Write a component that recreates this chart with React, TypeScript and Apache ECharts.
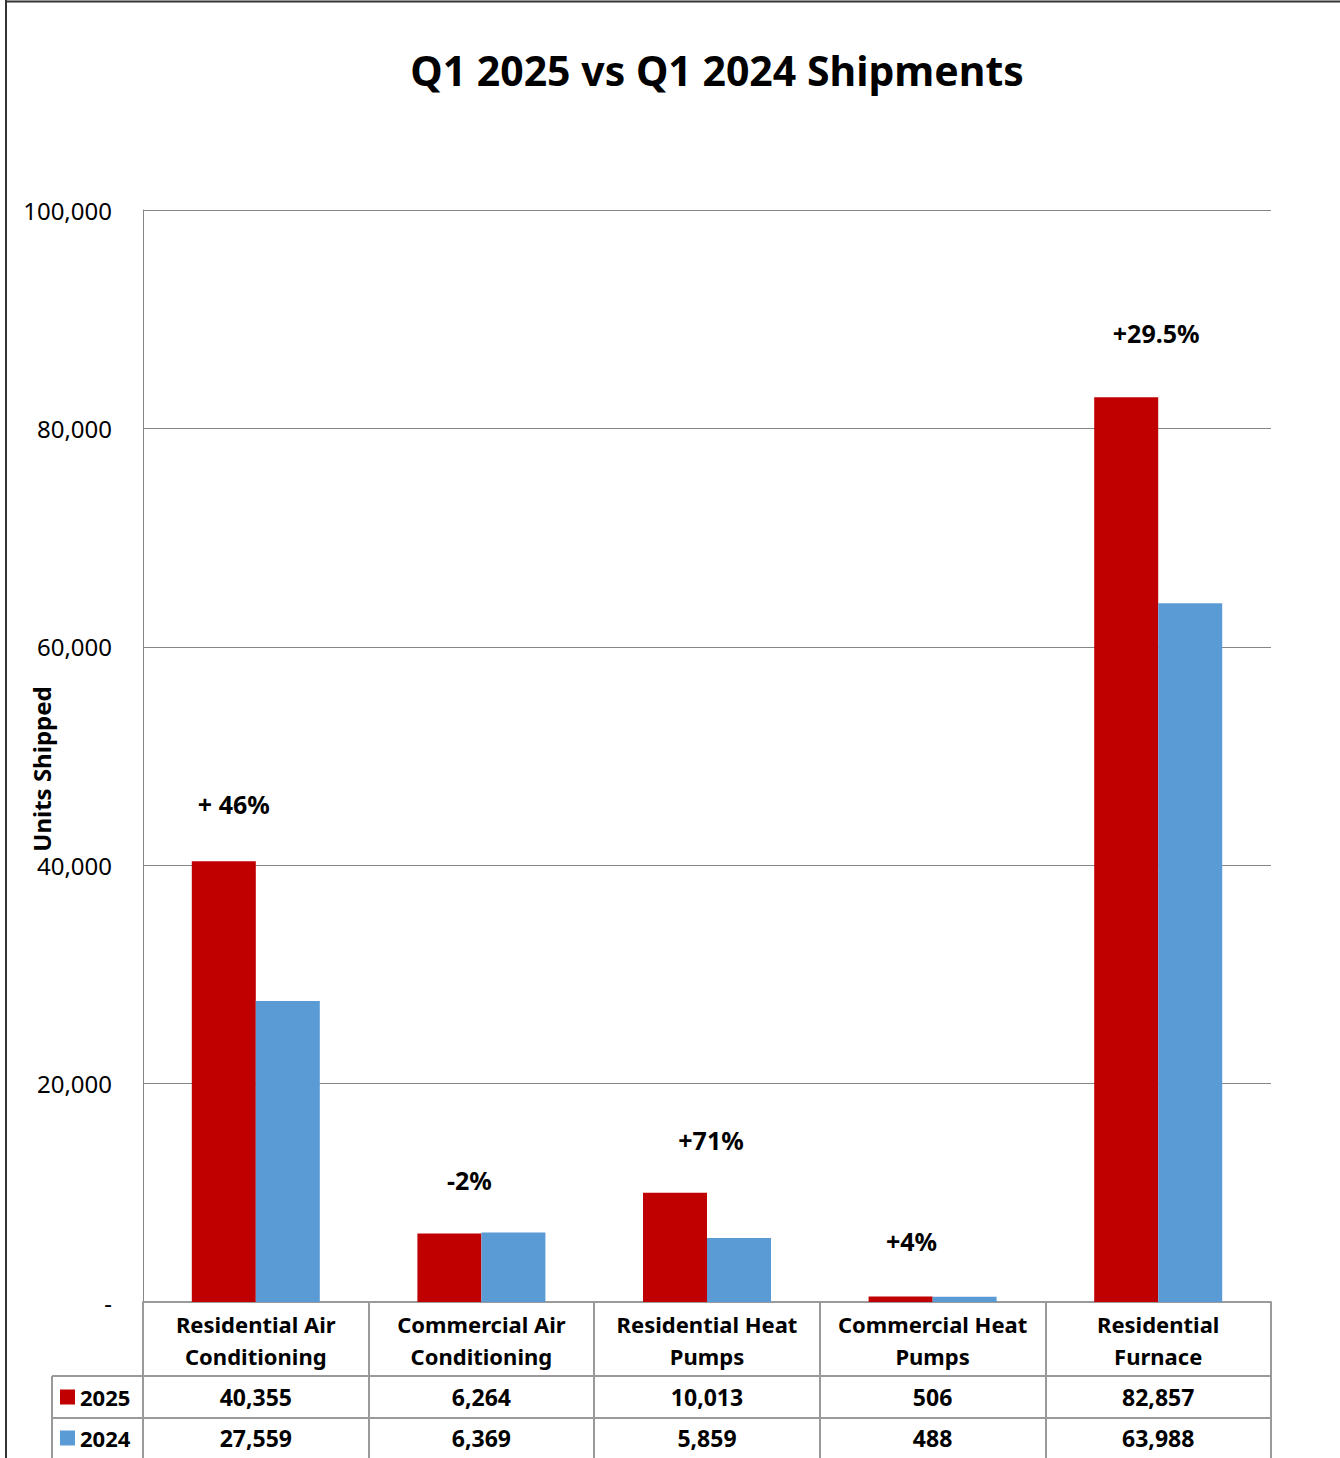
import React, { useEffect, useRef } from "react";
import * as echarts from "echarts";

const categories = [
  "Residential Air\nConditioning",
  "Commercial Air\nConditioning",
  "Residential Heat\nPumps",
  "Commercial Heat\nPumps",
  "Residential\nFurnace",
];
const values2025 = [40355, 6264, 10013, 506, 82857];
const values2024 = [27559, 6369, 5859, 488, 63988];
const changeLabels = ["+ 46%", "-2%", "+71%", "+4%", "+29.5%"];
const changeLabelY = [45600, 11200, 14800, 5600, 88700];
const changeLabelDx = [-22, -12, 4, -21, -2];
const seriesNames = ["2025", "2024"];

const W = 1340;
const H = 1458;
const GRID_L = 143;
const GRID_R = 1271;
const GRID_T = 210;
const GRID_B = 1302;
const FONT = "Noto Sans";
const RED = "#C00000";
const BLUE = "#5B9BD5";
const TABLE = "#9a9a9a";

const fmt = (v: number) => v.toLocaleString("en-US");

export default function App() {
  const ref = useRef<HTMLDivElement>(null);
  useEffect(() => {
    document.body.style.margin = "0";
    const chart = echarts.init(ref.current!, null, { renderer: "svg" });
    const option: any = {
      animation: false,
      backgroundColor: "#fff",
      textStyle: { fontFamily: FONT },
      title: {
        text: "Q1 2025 vs Q1 2024 Shipments",
        left: 712,
        top: 44,
        textAlign: "center",
        textStyle: { fontFamily: FONT, fontSize: 41, fontWeight: "bold", color: "#000" },
      },
      legend: {
        data: seriesNames,
        orient: "vertical",
        left: 60,
        top: 1384,
        padding: 0,
        itemWidth: 15,
        itemHeight: 15,
        itemGap: 15,
        icon: "rect",
        textStyle: { fontFamily: FONT, fontSize: 22, fontWeight: "bold", color: "#000", lineHeight: 26 },
        selectedMode: false,
      },
      grid: {
        left: GRID_L,
        right: W - GRID_R,
        top: GRID_T,
        bottom: H - GRID_B,
        containLabel: false,
        outerBoundsMode: "none",
      },
      xAxis: [
        {
          type: "category",
          data: categories,
          position: "bottom",
          axisLine: { lineStyle: { color: TABLE, width: 2 } },
          axisTick: { show: true, length: 156, lineStyle: { color: TABLE, width: 2 } },
          axisLabel: {
            interval: 0,
            margin: 6,
            fontFamily: FONT,
            fontSize: 22,
            fontWeight: "bold",
            color: "#000",
            lineHeight: 32,
          },
        },
        {
          type: "category",
          data: values2025.map(fmt),
          position: "bottom",
          axisLine: { show: false },
          axisTick: { show: false },
          axisLabel: {
            interval: 0,
            margin: 80,
            fontFamily: FONT,
            fontSize: 23,
            fontWeight: "bold",
            color: "#000",
            lineHeight: 30,
          },
        },
        {
          type: "category",
          data: values2024.map(fmt),
          position: "bottom",
          axisLine: { show: false },
          axisTick: { show: false },
          axisLabel: {
            interval: 0,
            margin: 121,
            fontFamily: FONT,
            fontSize: 23,
            fontWeight: "bold",
            color: "#000",
            lineHeight: 30,
          },
        },
      ],
      yAxis: {
        type: "value",
        min: 0,
        max: 100000,
        interval: 20000,
        name: "Units Shipped",
        nameLocation: "middle",
        nameRotate: 90,
        nameGap: 81,
        nameMoveOverlap: false,
        nameTextStyle: {
          fontFamily: FONT,
          fontSize: 24,
          fontWeight: "bold",
          color: "#000",
          backgroundColor: "#fff",
          padding: [4, 42, 9, 16],
        },
        axisLine: { show: true, lineStyle: { color: "#868686", width: 1 } },
        axisTick: { show: false },
        splitLine: { lineStyle: { color: "#868686", width: 1 } },
        axisLabel: {
          margin: 31,
          fontFamily: FONT,
          fontSize: 24,
          color: "#000",
          formatter: (v: number) => (v === 0 ? "-" : fmt(v)),
        },
      },
      series: [
        {
          name: seriesNames[0],
          type: "bar",
          data: values2025,
          barWidth: 64,
          barGap: "0%",
          itemStyle: { color: RED },
          z: 2,
        },
        {
          name: seriesNames[1],
          type: "bar",
          data: values2024,
          barWidth: 64,
          barGap: "0%",
          itemStyle: { color: BLUE },
          z: 2,
        },
        {
          name: "change",
          type: "scatter",
          symbolSize: 0,
          silent: true,
          itemStyle: { color: "#000", opacity: 1 },
          data: changeLabelY.map((y, i) => ({
            value: [i, y],
            label: {
              show: true,
              position: "inside",
              offset: [changeLabelDx[i], 0],
              formatter: changeLabels[i],
              fontFamily: FONT,
              fontSize: 25,
              fontWeight: "bold",
              color: "#000",
              opacity: 1,
              textBorderWidth: 0,
              textBorderColor: "transparent",
            },
          })),
          z: 3,
        },
      ],
      graphic: [
        { type: "line", shape: { x1: 52, y1: 1376, x2: GRID_R, y2: 1376 }, style: { stroke: TABLE, lineWidth: 2 } },
        { type: "line", shape: { x1: 52, y1: 1418, x2: GRID_R, y2: 1418 }, style: { stroke: TABLE, lineWidth: 2 } },
        { type: "line", shape: { x1: 52, y1: 1376, x2: 52, y2: H }, style: { stroke: TABLE, lineWidth: 2 } },
        { type: "line", shape: { x1: 6, y1: 0, x2: 6, y2: H }, style: { stroke: "#333", lineWidth: 2 } },
        { type: "line", shape: { x1: 5, y1: 1.5, x2: W, y2: 1.5 }, style: { stroke: "#333", lineWidth: 2 } },
      ],
    };
    chart.setOption(option);
    return () => chart.dispose();
  }, []);
  return <div ref={ref} style={{ width: W, height: H }} />;
}
